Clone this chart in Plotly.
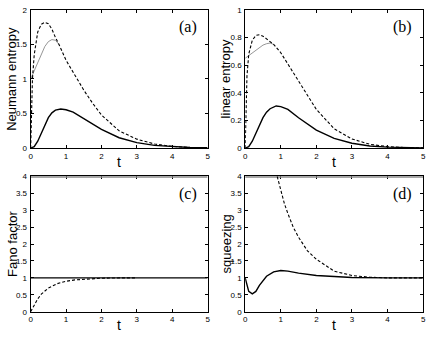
import plotly.graph_objects as go
from plotly.subplots import make_subplots

# (a) Neumann entropy
t_a_dash = [0, 0.03, 0.05, 0.1, 0.15, 0.2, 0.3, 0.4, 0.5, 0.6, 0.7, 0.8, 1.0, 1.25, 1.5, 1.75, 2.0, 2.5, 3.0, 3.5, 4.0, 4.5, 5.0]
a_dash = [0, 0.7, 1.0, 1.35, 1.55, 1.68, 1.79, 1.82, 1.8, 1.72, 1.6, 1.5, 1.27, 1.05, 0.84, 0.65, 0.48, 0.25, 0.13, 0.06, 0.025, 0.01, 0.005]
t_a_gray = [0, 0.1, 0.2, 0.3, 0.4, 0.5, 0.6, 0.7, 0.8]
a_gray = [1.0, 1.12, 1.25, 1.37, 1.47, 1.54, 1.57, 1.56, 1.5]
t_a_solid = [0, 0.1, 0.2, 0.3, 0.4, 0.5, 0.6, 0.7, 0.85, 1.0, 1.2, 1.5, 2.0, 2.5, 3.0, 3.5, 4.0, 4.5, 5.0]
a_solid = [0, 0.02, 0.1, 0.22, 0.34, 0.44, 0.51, 0.55, 0.565, 0.555, 0.52, 0.43, 0.27, 0.15, 0.08, 0.04, 0.02, 0.01, 0.005]

# (b) linear entropy
t_b_dash = [0, 0.03, 0.05, 0.1, 0.2, 0.3, 0.4, 0.5, 0.6, 0.7, 0.8, 1.0, 1.2, 1.5, 1.75, 2.0, 2.5, 3.0, 3.5, 4.0, 4.5, 5.0]
b_dash = [0, 0.38, 0.52, 0.68, 0.78, 0.815, 0.82, 0.81, 0.79, 0.77, 0.75, 0.69, 0.61, 0.49, 0.38, 0.28, 0.14, 0.066, 0.028, 0.011, 0.004, 0.002]
t_b_gray = [0, 0.1, 0.2, 0.3, 0.4, 0.5, 0.6, 0.7, 0.8]
b_gray = [0.65, 0.67, 0.69, 0.71, 0.73, 0.745, 0.755, 0.76, 0.75]
t_b_solid = [0, 0.1, 0.2, 0.3, 0.4, 0.5, 0.6, 0.7, 0.87, 1.0, 1.2, 1.5, 2.0, 2.5, 3.0, 3.5, 4.0, 4.5, 5.0]
b_solid = [0, 0.01, 0.05, 0.11, 0.17, 0.22, 0.26, 0.285, 0.305, 0.3, 0.28, 0.22, 0.13, 0.07, 0.035, 0.015, 0.007, 0.003, 0.002]

# (c) Fano factor
t_c_solid = [0, 5]
c_solid = [1, 1]
t_c_dash = [0, 0.1, 0.2, 0.3, 0.4, 0.5, 0.75, 1.0, 1.25, 1.5, 2.0, 2.5, 3.0]
c_dash = [0, 0.2, 0.38, 0.52, 0.62, 0.7, 0.83, 0.9, 0.94, 0.96, 0.99, 1.0, 1.0]
t_c_gray = [0, 5]
c_gray = [4, 4]

# (d) squeezing
t_d_solid = [0, 0.05, 0.1, 0.2, 0.3, 0.4, 0.5, 0.6, 0.8, 1.0, 1.2, 1.5, 2.0, 2.5, 3.0, 4.0, 5.0]
d_solid = [1.0, 0.75, 0.6, 0.53, 0.6, 0.78, 0.93, 1.05, 1.18, 1.22, 1.2, 1.14, 1.07, 1.03, 1.01, 1.0, 1.0]
t_d_dash = [0.9, 1.0, 1.1, 1.2, 1.35, 1.5, 1.75, 2.0, 2.5, 3.0, 3.5, 4.0, 5.0]
d_dash = [4.0, 3.6, 3.2, 2.9, 2.5, 2.2, 1.8, 1.55, 1.2, 1.07, 1.02, 1.0, 1.0]
t_d_gray = [0, 5]
d_gray = [4, 4]

ylabels = ["Neumann entropy", "linear entropy", "Fano factor", "squeezing"]
panel_tags = ["(a)", "(b)", "(c)", "(d)"]
yranges = [[0, 2], [0, 1], [0, 4], [0, 4]]
ydticks = [0.5, 0.2, 0.5, 0.5]

W, H = 436, 344
fig = make_subplots(rows=2, cols=2)

solid = dict(color="black", width=1.4)
dashed = dict(color="black", width=1.1, dash="3px,2px")
gray = dict(color="#8a8a8a", width=0.9)
gray_top = dict(color="#8a8a8a", width=3)

data = [
    [(t_a_gray, a_gray, gray), (t_a_dash, a_dash, dashed), (t_a_solid, a_solid, solid)],
    [(t_b_gray, b_gray, gray), (t_b_dash, b_dash, dashed), (t_b_solid, b_solid, solid)],
    [(t_c_gray, c_gray, gray_top), (t_c_solid, c_solid, solid), (t_c_dash, c_dash, dashed)],
    [(t_d_gray, d_gray, gray_top), (t_d_dash, d_dash, dashed), (t_d_solid, d_solid, solid)],
]

# pixel boxes of the plot areas
xbox = [(29, 208), (246, 426)]
ybox = [(6, 148), (177, 316)]
tickfont = dict(family="Liberation Sans", size=8, color="black")

for i in range(4):
    r, c = i // 2 + 1, i % 2 + 1
    for tx, ty, ln in data[i]:
        fig.add_trace(go.Scatter(x=tx, y=ty, mode="lines", line=ln, showlegend=False,
                                 hoverinfo="skip"), row=r, col=c)
    x0, x1 = xbox[c - 1]
    y0, y1 = ybox[r - 1]
    n = "" if i == 0 else str(i + 1)
    # bottom row: gray off-scale curve sits on the top frame, draw it above
    layer = "below traces" if r == 2 else "above traces"
    fig.update_layout(**{
        "xaxis" + n: dict(domain=[x0 / W, x1 / W], range=[0, 5], dtick=1, ticks="inside",
                          ticklen=3, tickcolor="black", showline=True, linecolor="black",
                          linewidth=1, mirror="ticks", showgrid=False, zeroline=False,
                          tickfont=tickfont, layer=layer),
        "yaxis" + n: dict(domain=[1 - y1 / H, 1 - y0 / H], range=yranges[i], dtick=ydticks[i],
                          ticks="inside", ticklen=3, tickcolor="black", showline=True,
                          linecolor="black", linewidth=1, mirror="ticks", showgrid=False,
                          zeroline=False, ticklabelstandoff=1, tickfont=tickfont),
    })
    # axis titles and panel tags
    fig.add_annotation(x=(x0 + x1) / 2 / W, y=1 - (y1 + 14) / H, xref="paper", yref="paper",
                       text="t", showarrow=False, xanchor="center", yanchor="middle",
                       font=dict(family="Liberation Sans", size=14, color="black"))
    fig.add_annotation(x=(x0 - 19) / W, y=1 - (y0 + y1) / 2 / H, xref="paper", yref="paper",
                       text=ylabels[i], showarrow=False, textangle=-90, xanchor="center",
                       yanchor="middle", font=dict(family="Liberation Sans", size=13, color="black"))
    fig.add_annotation(x=(x1 - 9) / W, y=1 - (y0 + 18) / H, xref="paper", yref="paper",
                       text=panel_tags[i], showarrow=False, xanchor="right", yanchor="middle",
                       font=dict(family="Liberation Serif", size=16, color="black"))

fig.update_layout(width=W, height=H, margin=dict(l=0, r=0, t=0, b=0),
                  plot_bgcolor="white", paper_bgcolor="white")
fig.write_html("out.html", config={"displayModeBar": False},
               post_script="document.body.style.margin='0';")
